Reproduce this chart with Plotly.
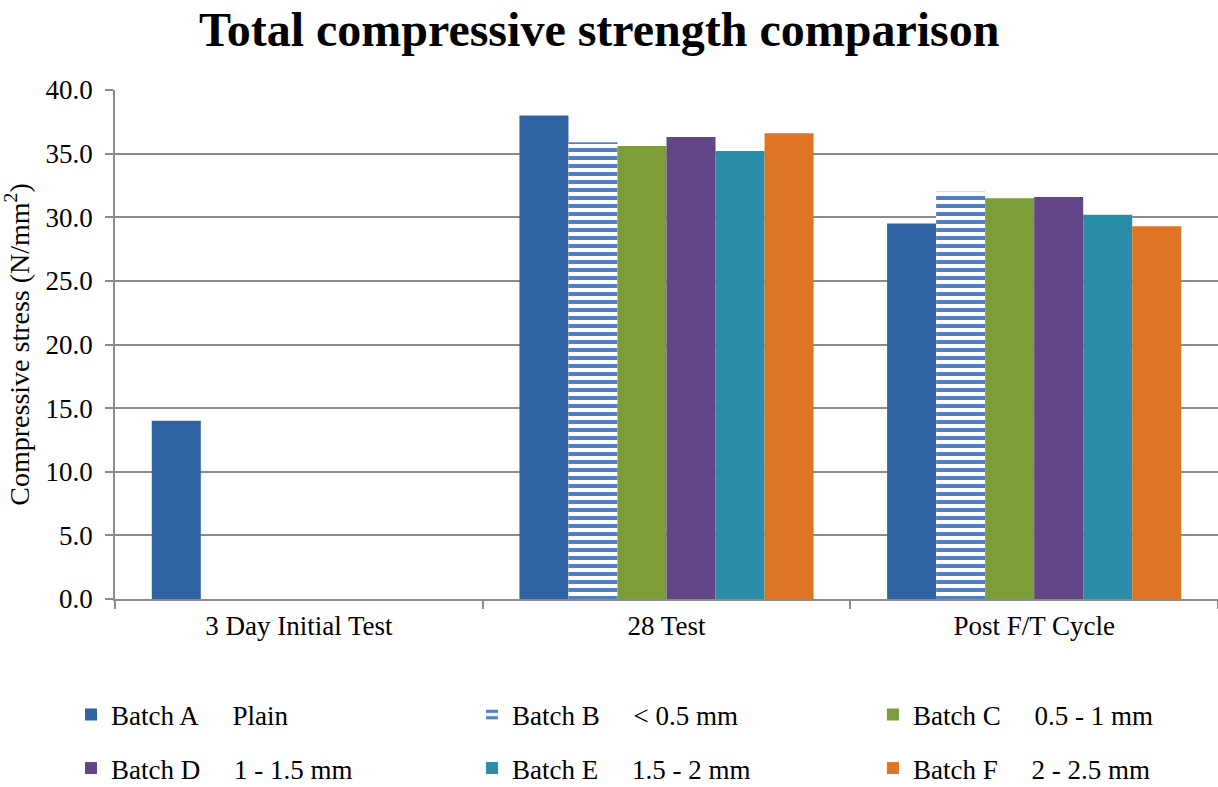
import plotly.graph_objects as go

# Test stages on the x axis
stages = ["3 Day Initial Test", "28 Test", "Post F/T Cycle"]

# Compressive stress (N/mm²) per batch, one value per stage
batch_a = [14.0, 38.0, 29.5]
batch_b = [None, 35.9, 32.0]
batch_c = [None, 35.6, 31.5]
batch_d = [None, 36.3, 31.6]
batch_e = [None, 35.2, 30.2]
batch_f = [None, 36.6, 29.3]

NB = "\u00a0" * 5
batch_names = [
    "Batch A" + NB + "Plain",
    "Batch B" + NB + "< 0.5 mm",
    "Batch C" + NB + "0.5 - 1 mm",
    "Batch D" + NB + "1 - 1.5 mm",
    "Batch E" + NB + "1.5 - 2 mm",
    "Batch F" + NB + "2 - 2.5 mm",
]
batch_values = [batch_a, batch_b, batch_c, batch_d, batch_e, batch_f]
batch_colors = ["#2f63a2", "#4f81c2", "#7c9d38", "#634688", "#2a8ea8", "#dd7524"]

FONT = "Liberation Serif, Times New Roman, serif"

# Legend grid: three columns, two rows (container coordinates)
legend_cols = [0.0583, 0.3875, 0.7167]
legend_rows = [0.0915, 0.0235]

fig = go.Figure()
legend_layout = {}
for i, (name, vals, col) in enumerate(zip(batch_names, batch_values, batch_colors)):
    marker = dict(color=col, line=dict(width=0))
    if i == 1:
        marker = dict(
            color=col,
            line=dict(width=0),
            pattern=dict(shape="-", fgcolor=col, bgcolor="white",
                         size=8, solidity=0.5, fillmode="replace"),
        )
    key = "legend" if i == 0 else f"legend{i + 1}"
    fig.add_trace(go.Bar(x=stages, y=vals, name=name, marker=marker, legend=key))
    legend_layout[key] = dict(
        x=legend_cols[i % 3], y=legend_rows[i // 3],
        xref="container", yref="container",
        xanchor="left", yanchor="middle",
        orientation="h",
        font=dict(family=FONT, size=27, color="black"),
        bgcolor="rgba(0,0,0,0)",
    )

fig.update_layout(
    width=1218,
    height=787,
    margin=dict(l=115, r=0, t=90, b=188),
    paper_bgcolor="white",
    plot_bgcolor="white",
    barmode="group",
    bargap=0.2,
    bargroupgap=0,
    font=dict(family=FONT, size=27, color="black"),
    title=dict(
        text="<b>Total compressive strength comparison</b>",
        font=dict(family=FONT, size=48, color="black"),
        x=0.492, xref="container", xanchor="center",
        y=0.9625, yref="container", yanchor="middle",
    ),
    showlegend=True,
    **legend_layout,
)

fig.update_xaxes(
    showline=True, linecolor="#8c8c8c", linewidth=1.5,
    ticks="outside", tickson="boundaries", ticklen=8,
    tickcolor="#8c8c8c", tickwidth=1.5,
    tickfont=dict(family=FONT, size=27, color="black"),
    ticklabelstandoff=2,
    showgrid=False,
)
fig.update_yaxes(
    range=[0, 40], dtick=5, tickformat=".1f",
    showline=True, linecolor="#8c8c8c", linewidth=1.5,
    ticks="outside", ticklen=8, tickcolor="#8c8c8c", tickwidth=1.5,
    ticklabelstandoff=7,
    showgrid=True, gridcolor="#8c8c8c", gridwidth=1.5,
    zeroline=False,
    tickfont=dict(family=FONT, size=27, color="black"),
    title=dict(text="Compressive stress (N/mm<sup>2</sup>)",
               font=dict(family=FONT, size=28, color="black"), standoff=8),
)

fig.write_html("out.html")
